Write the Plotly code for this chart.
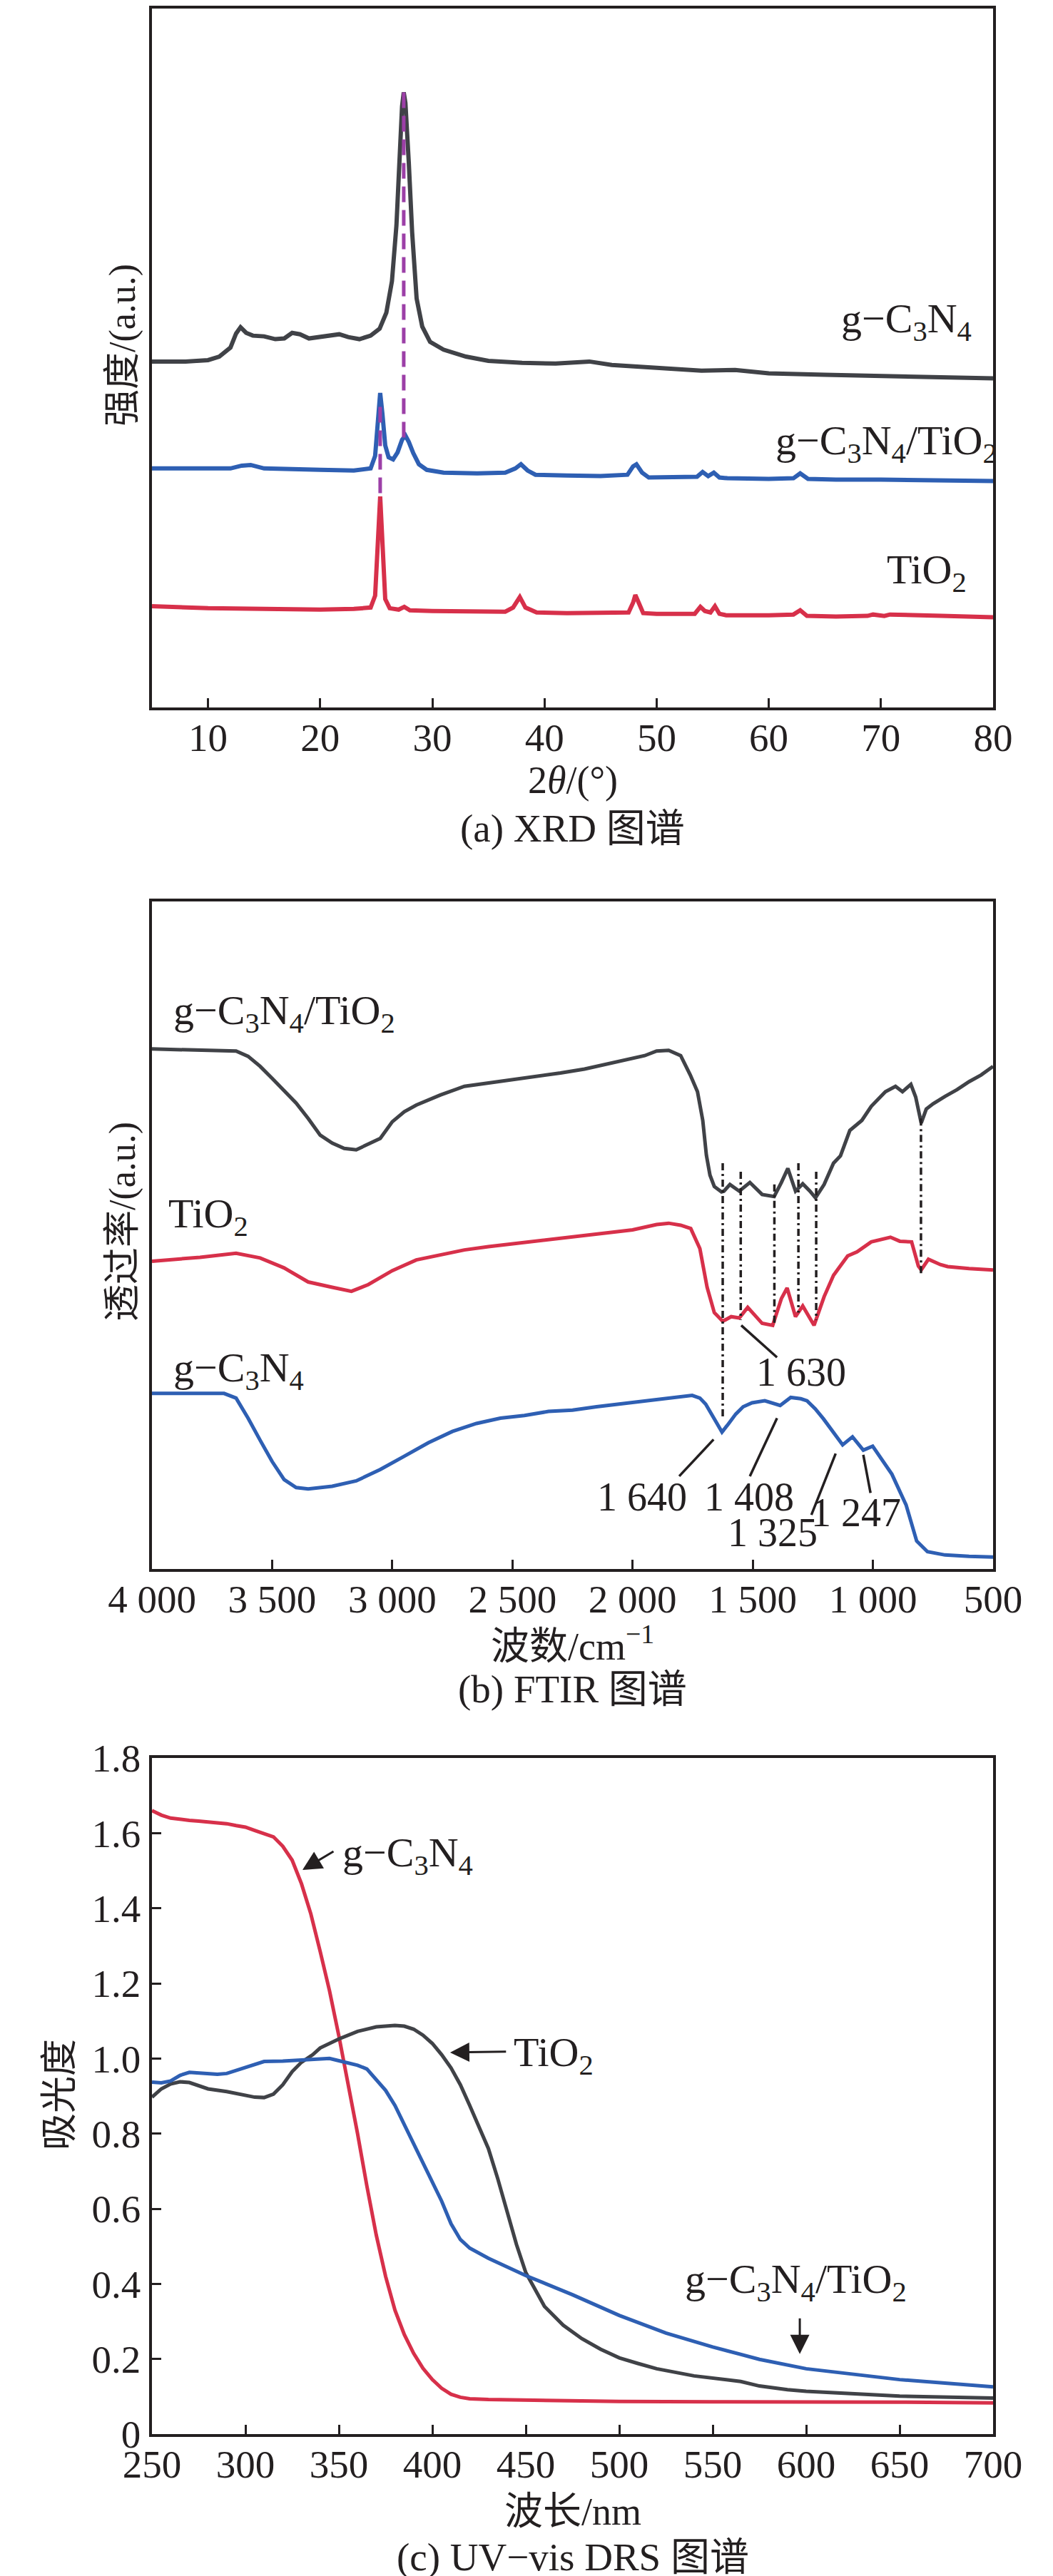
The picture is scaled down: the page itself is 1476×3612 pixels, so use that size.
import plotly.graph_objects as go

W, H = 1476, 3612

# (a) XRD
xrd_tt_c3n4 = [5, 8, 10, 11, 12, 12.5, 12.9, 13.4, 14, 15, 16, 16.8, 17.5, 18.2, 19, 20, 21, 21.7,
               22.5, 23.5, 24.5, 25.3, 25.9, 26.4, 26.8, 27.1, 27.3, 27.45, 27.6, 27.9, 28.2, 28.6,
               29.1, 29.8, 31, 33, 35, 38, 41, 44, 46, 50, 54, 57, 60, 65, 70, 75, 80]
xrd_int_c3n4 = [49.5, 49.5, 49.7, 50.2, 51.5, 53.5, 54.4, 53.6, 53.2, 53.1, 52.7, 52.8, 53.6, 53.4,
                52.8, 53.0, 53.2, 53.4, 53.0, 52.7, 53.2, 54.2, 56.5, 61, 69, 80, 86, 88, 86.5, 78,
                68, 58.5, 54.5, 52.3, 51.2, 50.2, 49.6, 49.3, 49.2, 49.5, 49.0, 48.6, 48.2, 48.3,
                47.8, 47.6, 47.4, 47.3, 47.1]

xrd_tt_comp = [5, 10, 12, 13, 13.8, 15, 18, 20, 23, 24.5, 24.9, 25.15, 25.35, 25.55, 25.8, 26.1,
               26.5, 26.9, 27.3, 27.6, 27.9, 28.3, 28.8, 29.5, 31, 34, 36.5, 37.4, 37.9, 38.5, 39.2,
               42, 45, 47.4, 47.9, 48.2, 48.7, 49.3, 52, 53.6, 54.1, 54.6, 55.1, 55.6, 56.3, 60,
               62.2, 62.8, 63.5, 66, 70, 75, 80]
xrd_int_comp = [34.2, 34.1, 34.2, 34.6, 34.7, 34.2, 34.0, 34.0, 33.9, 34.2, 36, 41, 45, 42, 37.5,
                35.8, 35.5, 36.5, 38.3, 38.9, 38.0, 36.4, 34.8, 34.0, 33.6, 33.5, 33.6, 34.2, 34.8,
                33.9, 33.3, 33.2, 33.1, 33.3, 34.5, 34.8, 33.6, 32.9, 32.9, 33.0, 33.7, 33.1, 33.6,
                32.9, 32.8, 32.7, 32.8, 33.5, 32.7, 32.6, 32.6, 32.5, 32.4]

xrd_tt_tio2 = [5, 8, 10, 15, 20, 23, 24.5, 24.9, 25.1, 25.25, 25.35, 25.45, 25.6, 25.8, 26.2, 27,
               27.5, 28, 30, 33, 36.5, 37.2, 37.8, 38.3, 38.7, 39.3, 42, 45, 47.5, 47.9, 48.1, 48.4,
               48.8, 50, 53.4, 53.9, 54.3, 54.8, 55.2, 55.6, 56.2, 60, 62.2, 62.8, 63.4, 66, 68.8,
               69.3, 70.3, 70.8, 75, 75.4, 80]
xrd_int_tio2 = [14.5, 14.3, 14.2, 14.1, 14.0, 14.1, 14.3, 16, 21, 27, 30.2, 27, 20, 15.5, 14.2,
                14.0, 14.4, 13.9, 13.8, 13.7, 13.7, 14.3, 15.8, 14.3, 14.0, 13.6, 13.5, 13.5, 13.6,
                15.0, 16.1, 15.0, 13.5, 13.4, 13.4, 14.4, 13.8, 13.6, 14.5, 13.4, 13.2, 13.2, 13.3,
                13.9, 13.1, 13.0, 13.1, 13.3, 13.1, 13.3, 13.0, 13.1, 12.9]

# purple dashed guides: (2theta, top, bottom)
xrd_guide_tt = [27.45, 25.35]
xrd_guide_top = [88, 43]
xrd_guide_bottom = [38.5, 29.5]

# (b) FTIR
ir_wn_comp = [4000, 3800, 3650, 3600, 3550, 3500, 3450, 3400, 3350, 3300, 3250, 3200, 3150, 3100,
              3050, 3000, 2950, 2900, 2800, 2700, 2600, 2500, 2400, 2300, 2200, 2100, 2000, 1950,
              1900, 1850, 1800, 1760, 1730, 1708, 1693, 1678, 1660, 1630, 1620, 1595, 1556, 1512,
              1461, 1411, 1381, 1354, 1322, 1292, 1262, 1239, 1203, 1164, 1135, 1096, 1046, 1007,
              948, 906, 877, 842, 822, 799, 778, 749, 700, 650, 600, 550, 500]
ir_t_comp = [77.9, 77.8, 77.6, 76.8, 75.3, 73.5, 71.6, 69.8, 67.5, 65.0, 63.8, 63.0, 62.8, 63.6,
             64.5, 67.0, 68.5, 69.5, 71.0, 72.3, 72.8, 73.2, 73.8, 74.3, 74.9, 75.7, 76.4, 76.9,
             77.6, 77.7, 76.9, 74.0, 71.5, 67.2, 62.0, 59.0, 57.3, 56.5, 56.6, 57.6, 56.6, 57.9,
             56.1, 55.8, 57.9, 60.0, 56.6, 57.7, 56.6, 55.6, 57.6, 60.8, 61.9, 65.7, 67.2, 69.3,
             71.5, 72.3, 71.5, 72.6, 70.7, 66.8, 68.9, 69.7, 70.8, 71.8, 73.0, 74.0, 75.3]

ir_wn_tio2 = [4000, 3800, 3650, 3550, 3450, 3350, 3250, 3170, 3100, 3000, 2900, 2800, 2700, 2600,
              2500, 2400, 2350, 2300, 2200, 2100, 2000, 1900, 1850, 1800, 1758, 1720, 1690, 1660,
              1625, 1590, 1556, 1521, 1490, 1461, 1417, 1381, 1357, 1322, 1292, 1270, 1245, 1203,
              1164, 1105, 1066, 1007, 927, 888, 839, 811, 799, 769, 719, 689, 600, 500]
ir_t_tio2 = [46.1, 46.7, 47.3, 46.6, 45.1, 43.0, 42.2, 41.6, 42.6, 44.7, 46.3, 47.1, 47.8, 48.3,
             48.7, 49.1, 49.4, 49.6, 50.0, 50.4, 50.8, 51.6, 51.8, 51.5, 51.0, 48.0, 42.2, 38.4,
             37.1, 37.8, 37.6, 39.2, 38.0, 36.8, 36.5, 40.5, 42.1, 37.8, 39.4, 38.0, 36.5, 40.8,
             44.0, 46.9, 47.5, 49.0, 49.7, 49.1, 49.0, 45.4, 44.8, 46.4, 45.6, 45.3, 45.0, 44.8]

ir_wn_c3n4 = [4000, 3800, 3700, 3650, 3600, 3550, 3500, 3450, 3400, 3350, 3250, 3150, 3050, 2950,
              2850, 2750, 2650, 2550, 2450, 2350, 2250, 2150, 2050, 1950, 1850, 1752, 1720, 1696,
              1660, 1628, 1600, 1571, 1540, 1503, 1450, 1410, 1386, 1342, 1300, 1274, 1240, 1206,
              1165, 1126, 1085, 1040, 1001, 960, 921, 862, 818, 773, 700, 600, 500]
ir_t_c3n4 = [26.3, 26.3, 26.3, 25.6, 22.6, 19.3, 16.1, 13.4, 12.2, 12.0, 12.4, 13.2, 14.9, 16.9,
             18.9, 20.6, 21.8, 22.6, 23.0, 23.6, 23.8, 24.3, 24.7, 25.2, 25.6, 26.0, 25.6, 24.7,
             22.5, 20.5, 21.8, 23.2, 24.3, 24.9, 25.2, 24.8, 24.5, 25.7, 25.5, 25.2, 24.0, 22.5,
             20.5, 18.6, 19.8, 17.8, 18.4, 16.3, 14.2, 9.6, 4.2, 2.6, 2.1, 1.9, 1.8]

# dash-dot guides
ir_guide_wn = [1625, 1550, 1410, 1310, 1236, 800]
ir_guide_top = [60.8, 59.5, 57.6, 60.8, 59.5, 67.5]
ir_guide_bottom = [22.6, 37.3, 36.5, 38.4, 37.3, 44.3]

# peak labels: text, label position, leader start, leader end
ir_peak_text = ["1 630", "1 640", "1 408", "1 325", "1 247"]
ir_peak_wn = [1298, 1962, 1515, 1417, 1070]
ir_peak_t = [29.5, 10.8, 10.8, 5.4, 8.4]
ir_lead_wn0 = [1548, 1663, 1399, 1155, 1040]
ir_lead_t0 = [36.5, 19.4, 22.6, 17.3, 17.1]
ir_lead_wn1 = [1399, 1806, 1512, 1256, 1010]
ir_lead_t1 = [31.7, 13.9, 13.9, 8.1, 11.4]

# (c) UV-vis DRS
uv_wl_c3n4 = [250, 255, 260, 265, 270, 275, 280, 285, 290, 295, 300, 305, 310, 315, 320, 325, 330,
              335, 340, 345, 350, 355, 360, 365, 370, 375, 380, 385, 390, 395, 400, 405, 410, 415,
              420, 430, 450, 500, 550, 600, 650, 700]
uv_abs_c3n4 = [1.660, 1.648, 1.640, 1.636, 1.634, 1.632, 1.630, 1.629, 1.625, 1.620, 1.616, 1.607,
               1.598, 1.590, 1.565, 1.528, 1.465, 1.385, 1.285, 1.180, 1.060, 0.935, 0.800, 0.660,
               0.530, 0.420, 0.330, 0.265, 0.215, 0.175, 0.145, 0.122, 0.106, 0.098, 0.094, 0.092,
               0.090, 0.087, 0.086, 0.086, 0.085, 0.083]

uv_wl_tio2 = [250, 255, 260, 265, 270, 275, 280, 290, 300, 305, 310, 315, 320, 325, 330, 336, 340,
              350, 360, 370, 380, 385, 390, 395, 400, 405, 410, 415, 420, 425, 430, 435, 440, 445,
              450, 460, 470, 480, 490, 500, 510, 520, 540, 555, 565, 575, 590, 600, 650, 700]
uv_abs_tio2 = [0.897, 0.919, 0.932, 0.938, 0.936, 0.927, 0.919, 0.912, 0.902, 0.897, 0.896, 0.905,
               0.930, 0.965, 0.990, 1.010, 1.028, 1.052, 1.072, 1.084, 1.088, 1.086, 1.078, 1.062,
               1.040, 1.010, 0.975, 0.930, 0.875, 0.820, 0.760, 0.680, 0.590, 0.505, 0.430, 0.340,
               0.290, 0.254, 0.226, 0.203, 0.188, 0.174, 0.155, 0.146, 0.140, 0.128, 0.118, 0.114,
               0.101, 0.096]

uv_wl_comp = [250, 255, 260, 265, 270, 275, 280, 285, 290, 295, 300, 310, 320, 330, 340, 345, 350,
              360, 365, 370, 375, 380, 390, 400, 405, 410, 415, 420, 430, 450, 475, 500, 525, 550,
              575, 600, 650, 700]
uv_abs_comp = [0.937, 0.935, 0.940, 0.955, 0.963, 0.961, 0.960, 0.958, 0.960, 0.968, 0.977, 0.992,
               0.993, 0.995, 0.999, 1.000, 0.994, 0.982, 0.972, 0.945, 0.915, 0.875, 0.775, 0.675,
               0.620, 0.560, 0.518, 0.495, 0.468, 0.422, 0.371, 0.316, 0.269, 0.232, 0.199, 0.174,
               0.145, 0.126]

uv_yticks = [0, 0.2, 0.4, 0.6, 0.8, 1.0, 1.2, 1.4, 1.6, 1.8]
uv_yticklabels = ["0", "0.2", "0.4", "0.6", "0.8", "1.0", "1.2", "1.4", "1.6", "1.8"]
ir_xticks = [4000, 3500, 3000, 2500, 2000, 1500, 1000, 500]
ir_xticklabels = ["4 000", "3 500", "3 000", "2 500", "2 000", "1 500", "1 000", "500"]

C3N4 = "g−C<sub>3</sub>N<sub>4</sub>"
TIO2 = "TiO<sub>2</sub>"
COMP = "g−C<sub>3</sub>N<sub>4</sub>/TiO<sub>2</sub>"

BLACK = "#404247"
BLUE = "#2e5fb3"
RED = "#d7304a"
PURPLE = "#9c3fa7"
INK = "#231f20"
FONT = "Liberation Serif, Noto Sans CJK SC, serif"


def yp(px):
    return 1 - px / H


def seg(xs0, ys0, xs1, ys1):
    xs, ys = [], []
    for a, b, c, d in zip(xs0, ys0, xs1, ys1):
        xs += [a, c, None]
        ys += [b, d, None]
    return xs, ys


fig = go.Figure()

# panel a
fig.add_trace(go.Scatter(x=xrd_tt_c3n4, y=xrd_int_c3n4, mode="lines",
                         line=dict(color=BLACK, width=6), xaxis="x", yaxis="y"))
fig.add_trace(go.Scatter(x=xrd_tt_comp, y=xrd_int_comp, mode="lines",
                         line=dict(color=BLUE, width=6), xaxis="x", yaxis="y"))
fig.add_trace(go.Scatter(x=xrd_tt_tio2, y=xrd_int_tio2, mode="lines",
                         line=dict(color=RED, width=6), xaxis="x", yaxis="y"))
gx, gy = seg(xrd_guide_tt, xrd_guide_top, xrd_guide_tt, xrd_guide_bottom)
fig.add_trace(go.Scatter(x=gx, y=gy, mode="lines",
                         line=dict(color=PURPLE, width=5, dash="22px,11px"), xaxis="x", yaxis="y"))

# panel b
fig.add_trace(go.Scatter(x=ir_wn_comp, y=ir_t_comp, mode="lines",
                         line=dict(color=BLACK, width=5), xaxis="x2", yaxis="y2"))
fig.add_trace(go.Scatter(x=ir_wn_tio2, y=ir_t_tio2, mode="lines",
                         line=dict(color=RED, width=5), xaxis="x2", yaxis="y2"))
fig.add_trace(go.Scatter(x=ir_wn_c3n4, y=ir_t_c3n4, mode="lines",
                         line=dict(color=BLUE, width=5), xaxis="x2", yaxis="y2"))
gx, gy = seg(ir_guide_wn, ir_guide_top, ir_guide_wn, ir_guide_bottom)
fig.add_trace(go.Scatter(x=gx, y=gy, mode="lines",
                         line=dict(color=INK, width=3.5, dash="10px,5px,3px,5px"),
                         xaxis="x2", yaxis="y2"))
lx, ly = seg(ir_lead_wn0, ir_lead_t0, ir_lead_wn1, ir_lead_t1)
fig.add_trace(go.Scatter(x=lx, y=ly, mode="lines", line=dict(color=INK, width=3.5),
                         xaxis="x2", yaxis="y2"))

# panel c
fig.add_trace(go.Scatter(x=uv_wl_c3n4, y=uv_abs_c3n4, mode="lines",
                         line=dict(color=RED, width=5), xaxis="x3", yaxis="y3"))
fig.add_trace(go.Scatter(x=uv_wl_tio2, y=uv_abs_tio2, mode="lines",
                         line=dict(color=BLACK, width=5), xaxis="x3", yaxis="y3"))
fig.add_trace(go.Scatter(x=uv_wl_comp, y=uv_abs_comp, mode="lines",
                         line=dict(color=BLUE, width=5), xaxis="x3", yaxis="y3"))

xdom = [205 / W, 1384 / W]
frame = dict(showline=True, mirror=True, linewidth=3.5, linecolor=INK, showgrid=False,
             zeroline=False, automargin=False, tickfont=dict(family=FONT, size=55, color=INK))
xt = dict(ticks="inside", ticklen=13, tickwidth=3, tickcolor=INK, ticklabelstandoff=-9)

fig.update_layout(
    width=W, height=H, margin=dict(l=0, r=0, t=0, b=0),
    paper_bgcolor="white", plot_bgcolor="white", showlegend=False,
    font=dict(family=FONT, size=55, color=INK),
    xaxis=dict(domain=xdom, range=[5, 80], tickvals=[10, 20, 30, 40, 50, 60, 70, 80],
               anchor="y", **frame, **xt),
    yaxis=dict(domain=[yp(984), yp(4)], range=[0, 100], showticklabels=False, ticks="",
               anchor="x", **frame),
    xaxis2=dict(domain=xdom, range=[4000, 500], tickvals=ir_xticks, ticktext=ir_xticklabels,
                anchor="y2", **frame, **xt),
    yaxis2=dict(domain=[yp(2192), yp(1256)], range=[0, 100], showticklabels=False, ticks="",
                anchor="x2", **frame),
    xaxis3=dict(domain=xdom, range=[250, 700], dtick=50, anchor="y3", **frame, **xt),
    yaxis3=dict(domain=[yp(3405), yp(2457)], range=[0, 1.8], tickvals=uv_yticks,
                ticktext=uv_yticklabels, ticks="inside", ticklen=13, tickwidth=3, tickcolor=INK,
                ticklabelstandoff=1, anchor="x3", **frame),
)

ann = []


def txt(text, x, y, xref, yref, size=55, xanchor="center", angle=0):
    ann.append(dict(text=text, x=x, y=y, xref=xref, yref=yref, showarrow=False,
                    xanchor=xanchor, yanchor="middle", textangle=angle,
                    font=dict(family=FONT, size=size, color=INK)))


# axis titles and captions
xc = (205 + 1384) / 2 / W
txt("强度/(a.u.)", 164 / W, yp(476), "paper", "paper", size=52, angle=-90)
txt("2<i>θ</i>/(°)", xc, yp(1086), "paper", "paper", size=54)
txt("(a) XRD 图谱", xc, yp(1153), "paper", "paper")
txt("透过率/(a.u.)", 164 / W, yp(1705), "paper", "paper", size=52, angle=-90)
txt("波数/cm<sup>−1</sup>", xc, yp(2296), "paper", "paper", size=54)
txt("(b) FTIR 图谱", xc, yp(2360), "paper", "paper")
txt("吸光度", 75 / W, yp(2929), "paper", "paper", size=52, angle=-90)
txt("波长/nm", xc, yp(3514), "paper", "paper", size=54)
txt("(c) UV−vis DRS 图谱", xc, yp(3577), "paper", "paper")

# series labels
txt(C3N4, 72.3, 55.3, "x", "y", size=58)
txt(COMP, 70.5, 37.8, "x", "y", size=58)
txt(TIO2, 74.1, 19.3, "x", "y", size=58)

txt(COMP, 3917, 83.3, "x2", "y2", size=58, xanchor="left")
txt(TIO2, 3938, 52.8, "x2", "y2", size=58, xanchor="left")
txt(C3N4, 3917, 29.8, "x2", "y2", size=58, xanchor="left")
for t, xv, yv in zip(ir_peak_text, ir_peak_wn, ir_peak_t):
    txt(t, xv, yv, "x2", "y2", size=56)

txt(C3N4, 387, 1.54, "x3", "y3", size=58)
txt(TIO2, 465, 1.01, "x3", "y3", size=58)
txt(COMP, 594.6, 0.405, "x3", "y3", size=58)

# arrows in panel c: head, tail
uv_arrow_head = [(330.5, 1.502), (409.5, 1.016), (596.6, 0.213)]
uv_arrow_tail = [(347.7, 1.553), (440.0, 1.018), (596.6, 0.311)]
for (hx, hy), (tx, ty) in zip(uv_arrow_head, uv_arrow_tail):
    ann.append(dict(text="", x=hx, y=hy, ax=tx, ay=ty, xref="x3", yref="y3", axref="x3",
                    ayref="y3", showarrow=True, arrowhead=2, arrowsize=1.8, arrowwidth=3,
                    arrowcolor=INK, standoff=0, startstandoff=0))

fig.update_layout(annotations=ann)

fig.write_html("out.html")
